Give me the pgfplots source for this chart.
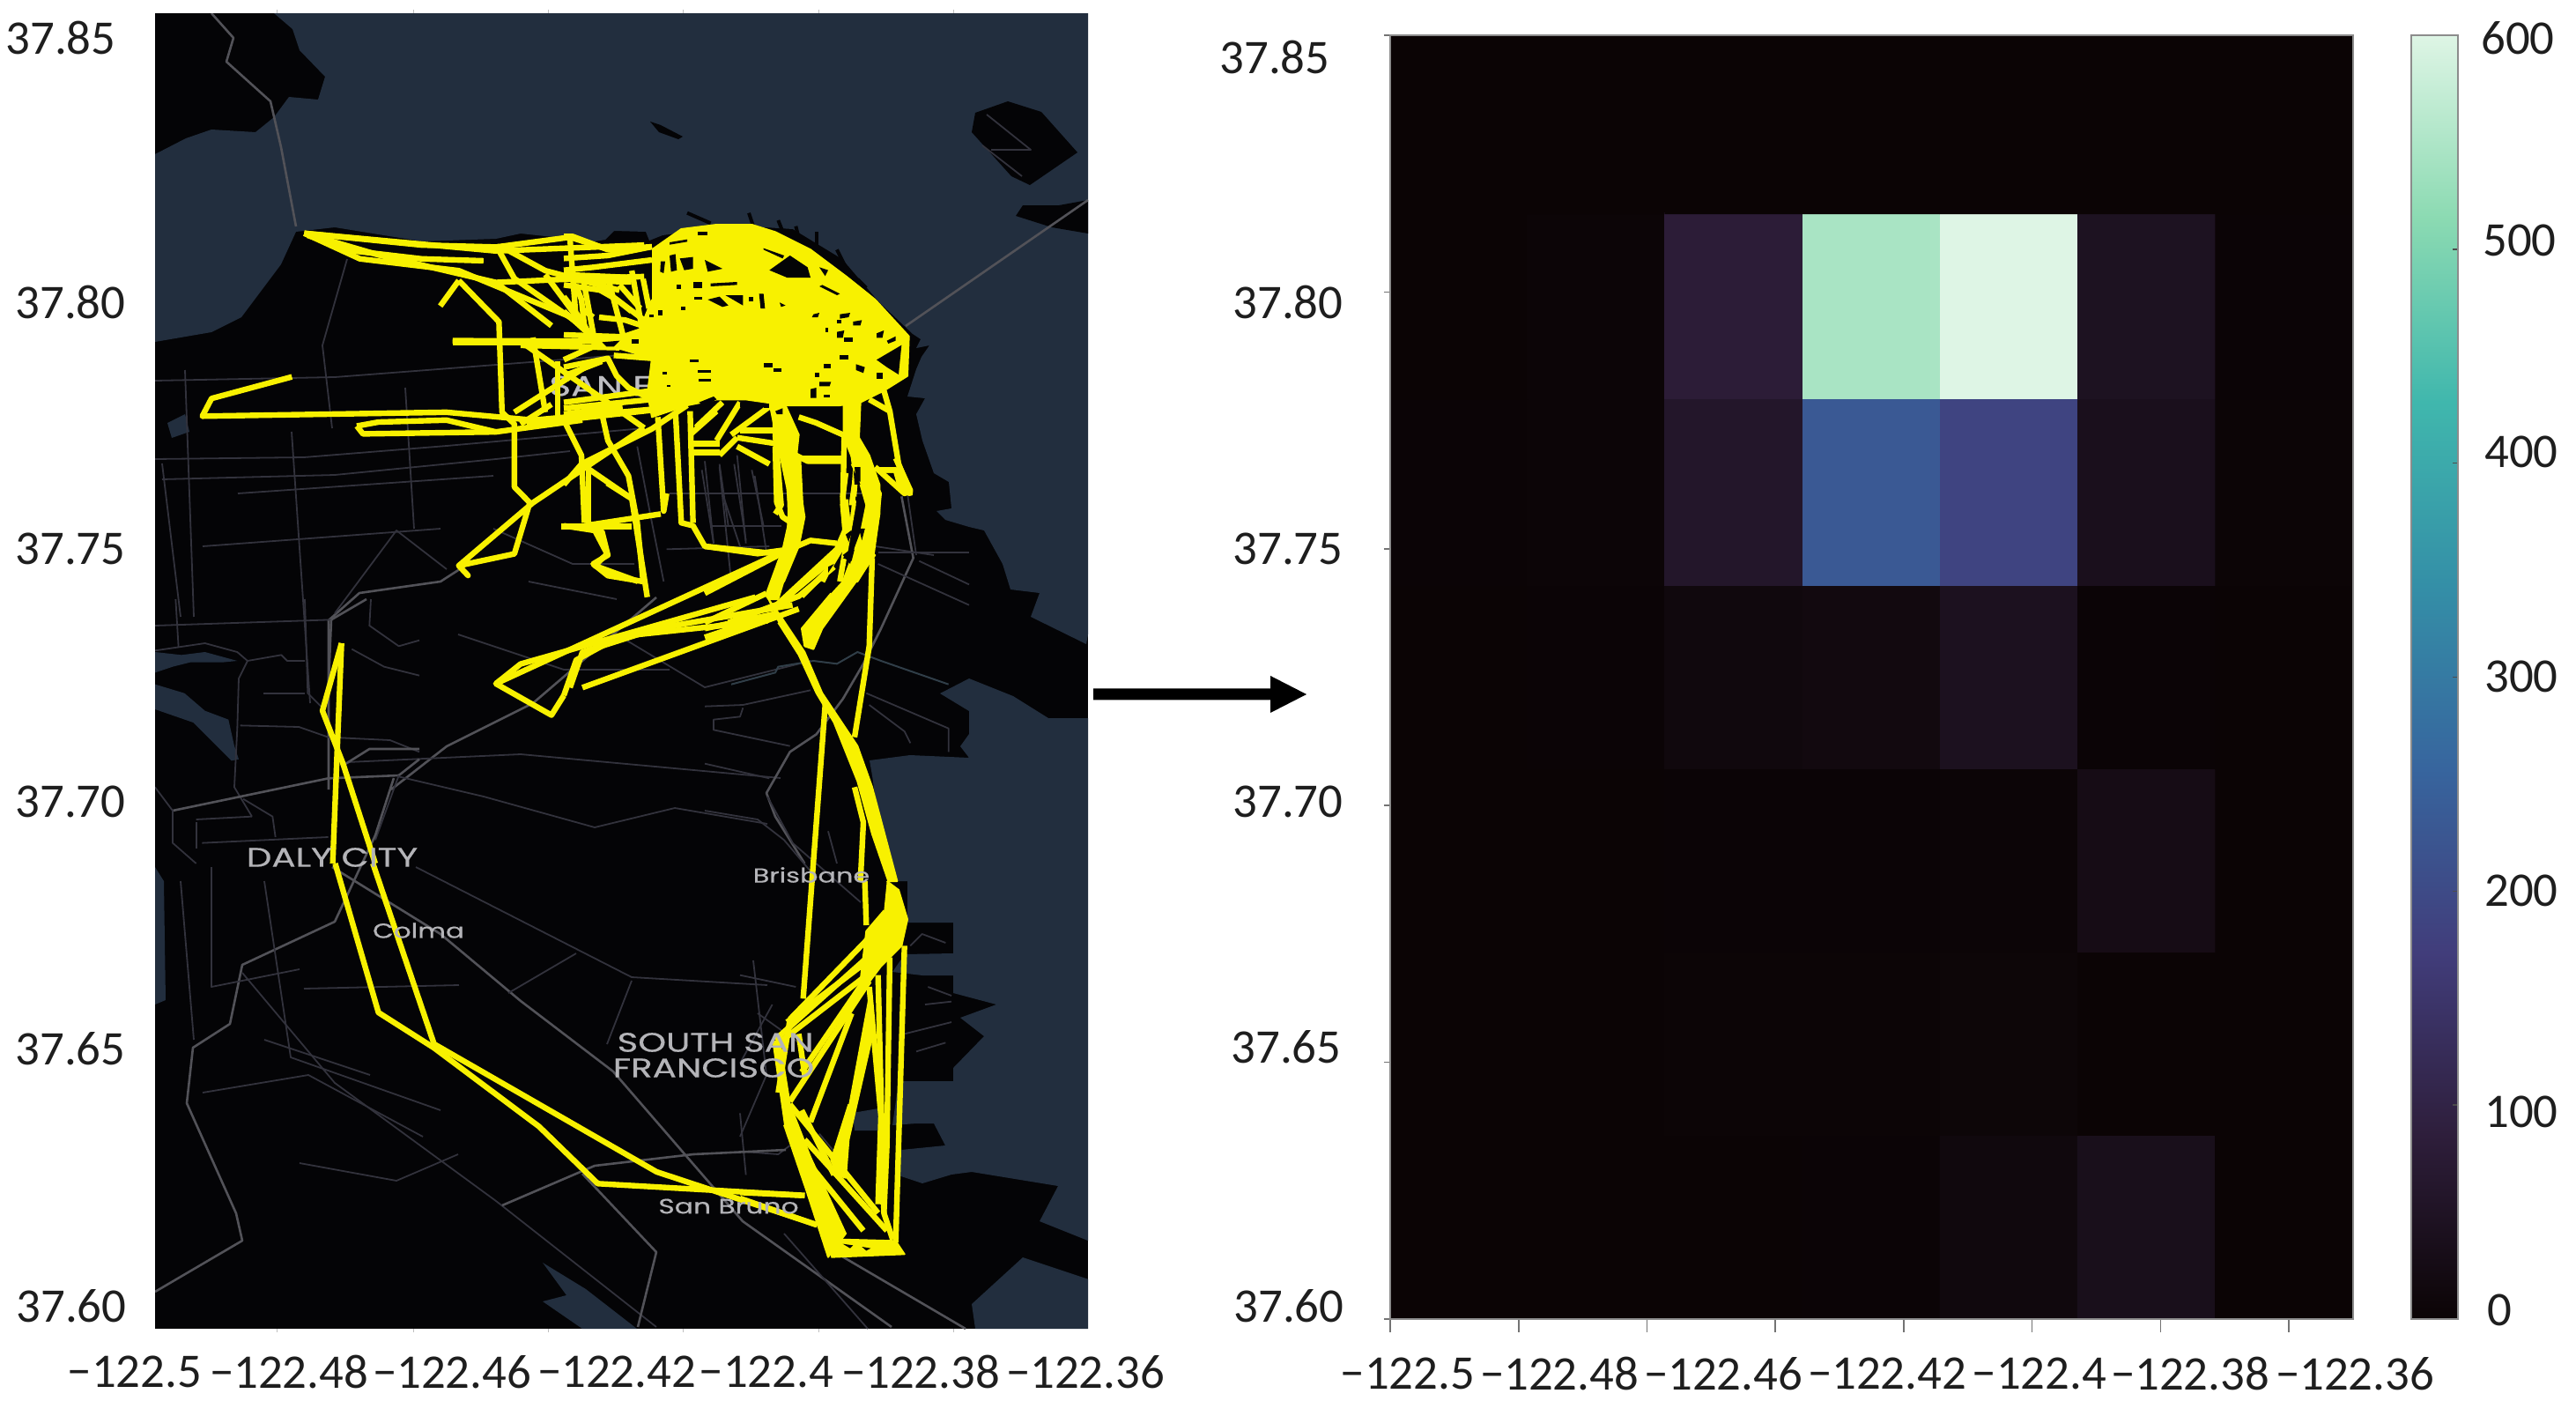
\documentclass[border=0pt]{standalone}
\usepackage{pgfplots}
\usepackage{fontspec}
\pgfplotsset{compat=1.18}
\setmainfont{Carlito}
\newfontfamily\mapfont[FakeStretch=1.33,FakeBold=0.5]{Poppins}
\definecolor{land}{RGB}{4,4,6}
\definecolor{water}{RGB}{34,46,62}
\definecolor{yel}{RGB}{248,241,0}
\definecolor{roadA}{RGB}{50,50,60}
\definecolor{roadB}{RGB}{82,82,88}
\definecolor{roadC}{RGB}{48,62,72}
\definecolor{lab}{RGB}{30,30,30}
\pgfplotsset{
  z1/.style={x filter/.expression={170+x/1.4255}, y filter/.expression={200+y/2.24}},
  z2/.style={x filter/.expression={170+x/1.4255}, y filter/.expression={850+y/2.24}},
  cA/.style={x filter/.expression={640+x/3}, y filter/.expression={240+y/3}},
  cB/.style={x filter/.expression={800+x/3}, y filter/.expression={500+y/3}},
  cC/.style={x filter/.expression={840+x/3}, y filter/.expression={1000+y/3}},
  cD/.style={x filter/.expression={176+x/3}, y filter/.expression={680+y/3}},
  colormap={mako}{rgb255=(11,4,5) rgb255=(46,30,59) rgb255=(65,61,123) rgb255=(55,101,158) rgb255=(52,143,167) rgb255=(64,183,173) rgb255=(139,218,178) rgb255=(222,245,229)}
}
\newcommand\wt[1]{\addplot[fill=water,draw=none] coordinates {#1};}
\newcommand\ld[1]{\addplot[fill=land,draw=none] coordinates {#1};}
\newcommand\rd[2][]{\addplot[roadA,line width=0.45pt,line join=round,#1] coordinates {#2};}
\newcommand\mr[2][]{\addplot[roadB,line width=0.65pt,line join=round,#1] coordinates {#2};}
\newcommand\yl[2]{\addplot[yel,line width=1.6pt,line join=round,#1] coordinates {#2};}
\newcommand\yf[2]{\addplot[fill=yel,draw=yel,line width=0.5pt,line join=round,#1] coordinates {#2};}
\newcommand\ho[1]{\addplot[fill=land,draw=none,cA] coordinates {#1};}
\newcommand\hb[1]{\addplot[fill=land,draw=none,cB] coordinates {#1};}
\newcommand\TL[3]{\node[inner sep=0pt,text=lab,font=\fontsize{13.7pt}{14pt}\selectfont] at (#1*0.25pt,-#2*0.25pt) {#3};}
\newcommand\ML[4]{\node[inner sep=0pt,text={rgb,255:red,180;green,180;blue,184},font=\mapfont\fontsize{#4}{9pt}\selectfont] at (#1*0.25pt,-#2*0.25pt) {#3};}
\begin{document}
\begin{tikzpicture}
\path[use as bounding box] (0,0) rectangle (731pt,-397.5pt);
% ---------- left: map with trajectories ----------
\begin{axis}[name=map,scale only axis,width=264.75pt,height=373.25pt,
  at={(705.5*0.25pt,-761.5*0.25pt)},anchor=center,
  xmin=176,xmax=1235,ymin=15,ymax=1508,y dir=reverse,clip=true,
  axis line style={draw=none},tick align=outside,major tick length=1pt,
  xtick={314,469,622,775,929,1082},ytick=\empty,xticklabel=\empty,
  xtick style={draw=black!25}]
\ld{(176,15) (1235,15) (1235,1508) (176,1508)}
% water
\wt{(311,15) (1235,15) (1235,720) (1233,731) (1170,700) (1180,673) (1147,669) (1138,640) (1117,602) (1100,598) (1073,590) (1063,580) (1080,577) (1077,547) (1060,537) (1047,500) (1040,470) (1050,452) (1030,450) (1040,419) (1046,405) (1055,392) (1040,395) (1045,385) (1036,379) (998,343) (956,294) (900,260) (836,256) (752,267) (737,273) (733,263) (697,262) (687,272) (675,274) (591,265) (563,271) (479,274) (380,258) (336,263) (319,300) (274,360) (240,377) (176,388) (176,175) (211,157) (240,147) (290,150) (311,133) (328,110) (361,113) (369,87) (340,57) (332,33)}
\wt{(1235,815) (1190,815) (1150,790) (1100,770) (1067,787) (1100,807) (1100,833) (1090,847) (1100,860) (1033,857) (987,863) (990,880) (1007,1000) (1030,1000) (1030,1047) (1082,1047) (1082,1082) (1027,1083) (1013,1103) (1047,1107) (1082,1107) (1082,1127) (1131,1140) (1090,1155) (1117,1176) (1082,1212) (1082,1227) (1020,1227) (1013,1277) (1040,1275) (1060,1275) (1073,1300) (1023,1305) (1017,1333) (1047,1343) (1080,1333) (1103,1330) (1201,1346) (1180,1386) (1235,1408)}
\wt{(968,1263) (997,1258) (997,1283) (970,1283)}
\wt{(1161,1427) (1236,1452) (1236,1508) (1107,1508) (1103,1480)}
\wt{(616,1433) (665,1463) (723,1508) (661,1508) (616,1477) (643,1470)}
\addplot[fill=water,draw=none,cD] coordinates {(0,180) (90,190) (170,180) (280,210) (230,215) (120,215) (60,230) (0,250)};
\addplot[fill=water,draw=none,cD] coordinates {(0,290) (100,320) (170,380) (250,410) (270,500) (285,545) (260,550) (200,490) (130,420) (0,375)};
\wt{(176,984) (186,1000) (188,1135) (176,1140)}
\wt{(190,480) (210,470) (215,490) (195,497)}
% islands and spurs of the shore
\ld{(1144,115) (1182,127) (1223,173) (1169,210) (1148,200) (1103,150) (1107,128)}
\ld{(1235,227) (1202,233) (1161,233) (1153,245) (1194,258) (1235,265)}
\ld{(738,138) (750,142) (775,155) (770,158) (748,150)}
\addplot[land,line width=1pt,cA] coordinates {(420,5) (500,40)};
\addplot[land,line width=1pt,cA] coordinates {(630,5) (645,50)};
\addplot[land,line width=1pt,cA] coordinates {(730,30) (750,80)};
\addplot[land,line width=1pt,cA] coordinates {(790,50) (800,90)};
\addplot[land,line width=1pt,cA] coordinates {(860,70) (860,130)};
\addplot[land,line width=1pt,cA] coordinates {(930,130) (960,190)};
\addplot[land,line width=1pt,cA] coordinates {(1000,230) (1030,260)};
% roads
\mr{(240,15) (265,43) (257,70) (307,115) (319,167) (336,257)}
\mr{(1235,227) (1028,370)}
\rd{(1115,165) (1160,200)} \rd{(1120,130) (1170,170) (1125,170)}
\rd{(176,432) (380,428) (563,414) (731,401)}
\rd{(176,521) (345,519) (507,506) (731,486)}
\rd{(184,544) (380,539) (563,521) (647,512)}
\rd{(184,526) (205,700)}
\rd{(331,490) (352,798)}
\rd{(394,294) (366,392) (377,486)}
\mr{(373,896) (373,704) (408,673) (500,660) (528,642)}
\mr{(444,896) (507,847) (605,798) (745,678)}
\rd{(394,865) (591,856) (886,883)}
\rd{(380,696) (450,602) (507,646)}
\rd{(700,720) (800,780) (920,750)} \rd{(520,720) (640,760) (760,760)}
\rd{(560,600) (650,640) (720,640)} \rd{(760,560) (1000,560)} \rd{(820,560) (840,620)}
\rd{(460,440) (470,600)} \rd{(270,560) (560,540)} \rd{(230,620) (500,600)} \rd{(210,420) (220,700)} \rd{(600,660) (700,680)}
% from the crops
\rd[cA]{(250,800) (300,1060) (340,1260)} \rd[cA]{(470,880) (510,1130)} \rd[cA]{(530,870) (570,1260)}
\rd[cA]{(590,830) (620,1130)} \rd[cA]{(650,900) (690,1160)} \rd[cA]{(350,1150) (700,1140)}
\rd[cA]{(1060,1140) (1260,1170)} \rd[cA]{(1170,960) (1200,1170)}
\rd[cB]{(0,70) (30,350)} \rd[cB]{(50,80) (80,290)} \rd[cB]{(100,80) (140,340)} \rd[cB]{(160,100) (200,290)} \rd[cB]{(20,290) (260,290)}
\mr[cB]{(670,190) (710,400) (600,640) (540,760) (470,880) (380,1000) (290,1060) (210,1200) (240,1280) (340,1440)}
\rd[cB]{(590,380) (900,380)} \rd[cB]{(590,420) (900,560)} \rd[cB]{(730,410) (900,490)}
\addplot[roadC,line width=0.5pt,cB] coordinates {(90,830) (240,790) (250,770) (370,750) (450,760) (520,720) (600,750) (830,830)};
\rd[cB]{(0,905) (130,900) (360,850)} \rd[cB]{(130,910) (120,940) (30,950) (30,985) (290,1040)}
\rd[cB]{(550,860) (830,980) (830,1060)} \rd[cB]{(560,900) (680,990) (700,1030)} \rd[cB]{(0,1100) (220,1150)}
\rd[cB]{(0,1260) (180,1290) (270,1360) (380,1490)} \rd[cB]{(420,1330) (450,1440)}
\rd[cC]{(0,320) (190,360)} \rd[cC]{(110,420) (0,620)} \rd[cC]{(0,920) (130,930) (170,900)} \rd[cC]{(270,860) (320,920)}
\rd[cC]{(580,220) (620,180) (700,210)} \rd[cC]{(560,520) (720,480)} \rd[cC]{(600,580) (700,550)} \rd[cC]{(630,420) (720,410)} \rd[cC]{(640,360) (720,390)} \rd[cC]{(0,790) (20,1000)}
\rd[cD]{(0,90) (600,70)} \mr[cD]{(600,70) (720,0)} \rd[cD]{(70,0) (80,165)}
\rd[cD]{(0,175) (170,150) (280,180) (315,210) (285,270) (280,440) (270,640) (330,740)}
\rd[cD]{(315,210) (430,190) (450,210) (510,210)} \rd[cD]{(510,0) (520,320) (570,370)} \mr[cD]{(600,70) (590,310)}
\rd[cD]{(370,320) (510,320)} \rd[cD]{(290,430) (490,435) (590,470) (800,480) (900,520)} \mr[cD]{(650,560) (730,510) (900,510)}
\mr[cD]{(60,720) (590,610) (830,600) (900,545)} \rd[cD]{(0,640) (60,720) (60,830) (140,900)} \rd[cD]{(300,680) (400,740) (410,810)}
\rd[cD]{(830,600) (750,820)} \rd[cD]{(735,0) (730,90) (830,160) (900,140)} \rd[cD]{(670,170) (780,230) (900,260)}
\rd[cD]{(140,760) (140,850)} \rd[cD]{(140,750) (330,740)} \rd[cD]{(160,830) (590,810)}
\mr{(447,883) (426,948) (380,1046) (275,1095) (261,1162) (219,1189) (212,1252) (268,1377) (275,1408) (176,1466)}
\rd{(275,1104) (380,1229) (563,1363) (745,1506)}
\rd{(451,881) (549,904) (675,939) (766,917) (871,935)}
\mr{(377,984) (500,1060) (591,1136) (696,1216) (843,1386) (1012,1506)}
\rd{(871,904) (900,957) (977,1024)}
\rd{(472,984) (717,1109) (871,1118)}
\rd{(717,1113) (689,1185)}
\rd{(654,1082) (577,1127)}
\mr{(892,1305) (787,1310) (675,1323) (570,1368)}
\mr{(661,1332) (745,1421) (724,1506)}
\mr{(956,1426) (1096,1508)}
\rd{(345,1122) (521,1118)}
\rd{(240,984) (240,1120) (340,1100)}
\rd{(230,1240) (350,1220) (480,1290)}
\rd{(340,1320) (450,1340) (520,1310)}
\rd{(855,1090) (870,1220) (840,1290)}
\rd{(860,1150) (930,1200)}
\rd{(890,1400) (985,1508)}
\rd{(300,1000) (330,1200) (500,1260)} \rd{(205,1000) (220,1180)} \rd{(300,1180) (420,1220)}
\node[inner sep=0pt,text={rgb,255:red,190;green,190;blue,194},font=\mapfont\fontsize{8pt}{9pt}\selectfont] at (791,438) {SAN FRANCISCO};
% trajectories: north-west of the city
\yl{z1}{(250,145) (440,175) (560,180) (680,155) (740,185)}
\yl{z1}{(250,145) (370,200) (560,270) (700,260) (800,255)}
\yl{z1}{(250,145) (340,210) (500,240) (700,370)}
\yl{z1}{(250,145) (560,190) (800,175)}
\yl{z1}{(255,150) (330,190) (440,210) (540,215)}
\yl{z1}{(560,175) (590,260) (690,370)}
\yl{z1}{(570,180) (640,240) (760,290)}
\yl{z1}{(500,265) (470,330)}
\yl{z1}{(500,265) (565,370) (570,600) (590,630) (590,790) (615,830) (590,960) (500,990) (515,1015) (500,990) (620,830) (800,640)}
\yl{z1}{(490,418) (830,420)} \yl{z1}{(490,424) (700,424)} \yl{z1}{(600,430) (760,436)}
\yl{z1}{(230,510) (100,565) (85,610) (480,600) (620,620) (830,590)}
\yl{z1}{(335,635) (370,625) (480,620) (560,650)}
\yl{z1}{(335,635) (345,655) (560,650) (700,620)}
\yl{z1}{(660,470) (660,620)}
\yl{z1}{(600,420) (800,640)}
\yl{z1}{(590,600) (720,470)} \yl{z1}{(600,630) (650,580)} \yl{z1}{(610,630) (840,590)} \yl{z1}{(620,410) (640,600)}
\yl{z1}{(665,890) (780,890)} \yl{z1}{(720,900) (740,960) (720,990) (790,1030)}
\yl{z1}{(710,730) (710,890)} \yl{z1}{(740,780) (780,820) (805,1070)}
\yl{z1}{(680,160) (690,370)} \yl{z1}{(560,270) (650,380)}
\yl{z1}{(700,250) (720,420)} \yl{z1}{(740,250) (770,430)} \yl{z1}{(780,240) (800,420)} \yl{z1}{(640,250) (720,420)}
% downtown
\yf{cA}{(300,130) (400,60) (520,45) (640,45) (720,70) (840,130) (960,220) (1060,300) (1175,425) (1170,560) (1090,610) (1010,650) (940,660) (760,660) (620,640) (520,640) (420,660) (300,700) (285,620) (300,500) (200,470) (110,450) (260,400) (300,300)}
\yl{cA}{(0,85) (30,85) (150,130) (300,120)} \yl{cA}{(0,160) (150,150) (300,120)} \yl{cA}{(0,200) (100,190) (300,165)}
\yl{cA}{(0,215) (230,225)} \yl{cA}{(40,235) (230,240)} \yl{cA}{(0,250) (140,270) (300,390)}
\yl{cA}{(0,290) (60,370) (110,460)} \yl{cA}{(0,340) (100,430)} \yl{cA}{(40,250) (60,300) (70,390)}
\yl{cA}{(110,260) (180,300) (230,340)} \yl{cA}{(190,250) (260,330)} \yl{cA}{(270,230) (290,330)}
\yl{cA}{(120,360) (210,370) (300,400)} \yl{cA}{(60,330) (100,360)} \yl{cA}{(0,420) (300,430)}
\yl{cA}{(0,505) (100,460) (300,440)} \yl{cA}{(0,530) (150,500) (180,560) (220,600) (300,640)} \yl{cA}{(0,560) (130,510)}
\yl{cA}{(170,490) (300,500)} \yl{cA}{(0,650) (300,610)} \yl{cA}{(0,670) (300,640)} \yl{cA}{(0,690) (200,665)}
\yl{cA}{(0,710) (60,830) (70,1060)} \yl{cA}{(130,690) (150,780) (220,900) (250,1060) (270,1260)}
\yl{cA}{(0,930) (60,860) (300,740) (420,660)} \yl{cA}{(60,860) (220,970)}
\yl{cA}{(70,1070) (330,1030)} \yl{cA}{(0,1070) (130,1090) (150,1170) (100,1200) (150,1240) (270,1260)}
\yl{cA}{(320,700) (340,1020) (350,960)} \yl{cA}{(380,680) (400,1060) (440,1070) (480,1140) (720,1165)} \yl{cA}{(430,680) (440,1060)}
\yl{cA}{(430,790) (530,790)} \yl{cA}{(430,820) (530,820)} \yl{cA}{(590,800) (700,860)} \yl{cA}{(590,770) (720,790)} \yl{cA}{(600,745) (720,745)}
\yl{cA}{(530,830) (590,770)} \yl{cA}{(450,735) (540,650)} \yl{cA}{(520,780) (600,650)} \yl{cA}{(570,760) (720,650)} \yl{cA}{(430,760) (520,680)} \yl{cA}{(720,650) (720,760) (740,1000) (720,1030)}
\yl{cA}{(790,830) (830,850) (950,850)} \yl{cA}{(800,700) (860,720) (950,760)} \yl{cA}{(1040,640) (1110,680) (1090,610)} \yl{cA}{(1110,680) (1140,860) (1180,960) (1150,950) (1130,880) (1070,880)}
\yf{cA}{(750,650) (800,760) (790,850) (820,1040) (800,1140) (750,1260) (720,1260) (750,1130) (770,1040) (760,940) (730,800) (700,650)}
\yf{cA}{(950,650) (1010,650) (1005,770) (1040,830) (1075,930) (1075,1030) (1050,1180) (1000,1260) (950,1260) (1010,1100) (1030,1000) (990,860) (950,760)}
\yl{cA}{(955,760) (950,1000) (960,1100) (880,1260)} \yl{cA}{(1000,800) (985,1000) (940,1260)}
% holes left open by the trajectories
\ho{(700,200) (770,150) (830,190) (840,225) (760,225)} \ho{(870,190) (900,200) (890,220)} \ho{(880,250) (940,280) (930,285) (870,255)}
\ho{(1065,505) (1150,455) (1140,555) (1100,530)} \ho{(360,105) (420,95) (420,103) (360,113)} \ho{(455,70) (490,70) (490,80) (455,80)}
\ho{(680,125) (750,150) (745,160) (680,130)} \ho{(360,150) (380,145) (385,200) (365,205)} \ho{(395,160) (440,155) (440,195) (410,200)}
\ho{(480,165) (540,195) (490,205)} \ho{(500,245) (590,240) (590,250) (500,255)} \ho{(440,240) (470,240) (470,260) (440,260)}
\ho{(385,250) (400,250) (400,265) (385,265)} \ho{(490,300) (530,290) (560,320) (540,325)} \ho{(550,285) (610,285) (610,320)}
\ho{(630,290) (645,290) (645,305) (630,305)} \ho{(665,280) (680,280) (685,330) (670,330)} \ho{(735,310) (755,320) (740,325)}
\ho{(445,290) (470,290) (470,300) (445,300)} \ho{(400,325) (415,325) (415,335) (400,335)} \ho{(320,335) (335,335) (335,355) (320,355)}
\ho{(290,350) (305,350) (305,360) (290,360)} \ho{(330,170) (345,170) (340,210) (328,205)}
\ho{(850,350) (870,345) (865,360) (845,360)} \ho{(940,350) (975,345) (970,360) (940,365)} \ho{(985,375) (1015,370) (1010,388) (985,388)}
\ho{(930,370) (945,370) (945,380) (930,380)} \ho{(1065,415) (1090,405) (1085,430) (1065,430)} \ho{(1100,440) (1130,425) (1130,440) (1105,450)}
\ho{(930,410) (955,405) (950,430) (930,430)} \ho{(955,430) (985,430) (985,445) (955,445)} \ho{(890,395) (900,395) (900,410) (890,410)}
\ho{(940,490) (970,490) (970,505) (940,505)} \ho{(885,520) (910,520) (910,535) (885,535)} \ho{(995,520) (1025,530) (1020,550) (995,540)}
\ho{(1065,550) (1085,550) (1085,570) (1065,570)} \ho{(855,550) (870,550) (870,565) (855,565)} \ho{(870,580) (910,580) (905,595) (870,595)}
\ho{(840,605) (860,600) (860,635) (840,635)} \ho{(885,625) (905,625) (905,632) (885,632)} \ho{(680,515) (710,515) (710,530) (680,530)}
\ho{(715,535) (740,535) (740,545) (715,545)} \ho{(455,540) (500,540) (500,550) (455,550)} \ho{(460,570) (500,570) (500,580) (460,580)}
\ho{(430,505) (460,505) (460,512) (430,512)} \ho{(335,545) (350,545) (350,555) (335,555)} \ho{(350,590) (362,590) (362,598) (350,598)}
\ho{(230,435) (255,435) (255,450) (230,450)} \ho{(130,445) (190,440) (170,460) (145,460)}
\ho{(460,650) (510,630) (520,640) (480,662)} \ho{(600,650) (625,650) (625,665) (600,665)} \ho{(680,655) (700,655) (700,668) (680,668)}
\ho{(720,680) (745,670) (745,690) (725,690)}
\ho{(985,860) (1010,930) (990,930)} \ho{(990,970) (1010,975) (1000,1000)} \ho{(965,1000) (980,1000) (970,1050)}
\ho{(1005,1010) (1015,1015) (1005,1040)} \ho{(1005,1080) (1025,1080) (1015,1120)} \ho{(960,1100) (985,1085) (965,1130)}
\ho{(950,1170) (990,1140) (975,1200)} \ho{(880,1230) (930,1160) (905,1240)}
% south of the city
\yl{z1}{(1010,965) (560,1290) (650,1370) (670,1320)}
\yl{z1}{(1050,1100) (700,1300)}
\yl{z1}{(980,1070) (600,1240) (560,1290)}
\yl{z1}{(1040,1090) (820,1150) (700,1210) (680,1300)}
\yl{z1}{(1000,1130) (760,1170) (690,1230) (670,1320)}
\yf{cB}{(285,0) (325,60) (335,260) (315,350) (280,440) (250,540) (220,540) (210,520) (250,410) (280,340) (285,250) (280,100)}
\yl{cB}{(240,20) (245,210) (265,260) (295,280)} \yl{cB}{(330,60) (480,60)}
\yl{cB}{(0,360) (180,385) (290,370)} \yl{cB}{(0,520) (260,385)} \yl{cB}{(290,370) (360,340) (450,350)}
\yl{cB}{(0,620) (210,520)} \yl{cB}{(0,640) (240,590)} \yl{cB}{(0,670) (240,590)}
\yl{cB}{(80,620) (240,560) (320,530) (440,430)} \yl{cB}{(250,555) (450,370) (480,300) (480,200)}
\yf{cB}{(210,530) (260,600) (340,720) (400,860) (520,1040) (570,1180) (655,1500) (625,1500) (570,1340) (520,1160) (440,960) (380,860) (320,730) (250,620)}
\yf{cB}{(540,400) (580,390) (400,640) (370,710) (340,700) (330,640) (430,520)}
\yf{cB}{(490,0) (580,140) (600,180) (590,280) (575,390) (545,400) (545,330) (560,200) (500,80)}
\yl{cB}{(480,110) (470,190) (480,340) (420,440) (330,530)} \yl{cB}{(510,150) (490,290) (440,400) (260,550)}
\yl{cB}{(580,90) (680,180) (700,170) (650,60)} \yl{cB}{(590,100) (650,100) (690,170)}
\yl{cB}{(570,400) (560,700) (510,1010)} \yl{cB}{(410,900) (365,1500)} \yl{cB}{(510,1180) (540,1300) (530,1500)}
\hb{(510,90) (530,90) (530,140) (515,140)} \hb{(490,220) (500,220) (495,260)} \hb{(515,190) (530,200) (520,215)}
\hb{(525,240) (535,235) (525,260)} \hb{(480,320) (500,305) (490,345)} \hb{(530,300) (545,300) (535,330)}
\hb{(470,400) (510,370) (500,410)} \hb{(420,430) (440,420) (420,450)} \hb{(330,600) (370,550) (345,610)} \hb{(280,600) (295,600) (295,625)}
% Daly City loop
\yl{cD}{(635,150) (620,520) (605,900)} \yl{cD}{(635,150) (570,380) (640,560) (750,900)}
\yl{z2}{(300,291) (370,670) (460,760) (630,960) (725,1105) (1060,1135)}
\yl{z2}{(361,291) (460,750) (820,1075) (1080,1210)}
% south fan
\yl{cC}{(245,0) (215,400)} \yl{cC}{(425,0) (430,150)}
\yf{cC}{(500,0) (540,30) (570,130) (550,220) (480,290) (420,370) (410,340) (430,170) (490,100)}
\yl{cC}{(530,200) (160,480)} \yl{cC}{(500,130) (170,470)} \yl{cC}{(500,200) (120,540)} \yl{cC}{(470,290) (120,560)}
\yl{cC}{(450,300) (210,650)} \yl{cC}{(440,340) (170,750)} \yl{cC}{(380,450) (240,820)}
\yf{cC}{(440,380) (450,530) (370,880) (360,1010) (330,1000) (310,950) (370,760)}
\yl{cC}{(560,220) (530,1230)} \yl{cC}{(470,320) (490,1130) (520,1220)} \yl{cC}{(440,360) (480,800) (470,1100)} \yl{cC}{(510,260) (500,900) (490,1130)}
\yf{cC}{(110,550) (135,540) (170,760) (240,940) (360,1200) (300,1280) (225,1050) (150,830)}
\yf{cC}{(310,1280) (560,1270) (530,1225) (340,1220) (290,1160)}
\yl{cC}{(170,760) (470,1130)} \yl{cC}{(220,880) (500,1190)} \yl{cC}{(250,980) (420,1190)} \yl{cC}{(210,780) (320,1000)}
\yl{cC}{(170,470) (130,720)} \yl{cC}{(200,520) (220,660)}
\yl{cC}{(0,1060) (210,1070)} \yl{cC}{(0,1080) (260,1170)}
\addplot[fill=land,draw=none,cC] coordinates {(350,1235) (385,1240) (375,1250)};
\addplot[fill=land,draw=none,cC] coordinates {(415,1245) (445,1250) (430,1258)};
\end{axis}
% map names
\ML{377}{973}{DALY CITY}{7.6pt}
\ML{475}{1056}{Colma}{5.8pt}
\ML{921}{993}{Brisbane}{5.7pt}
\ML{812}{1183}{SOUTH SAN}{7.6pt}
\ML{810}{1212}{FRANCISCO}{7.6pt}
\ML{827}{1369}{San Bruno}{5.9pt}
% ---------- arrow ----------
\fill[black] (1241*0.25pt,-781.5*0.25pt) -- (1442*0.25pt,-781.5*0.25pt) -- (1442*0.25pt,-767*0.25pt) -- (1483*0.25pt,-788*0.25pt) -- (1442*0.25pt,-809*0.25pt) -- (1442*0.25pt,-794.5*0.25pt) -- (1241*0.25pt,-794.5*0.25pt) -- cycle;
% ---------- right: heat map ----------
\begin{axis}[name=heat,scale only axis,width=273.25pt,height=364.25pt,
  at={(2124.5*0.25pt,-768.5*0.25pt)},anchor=center,
  xmin=-122.5,xmax=-122.35,ymin=37.6,ymax=37.85,
  axis line style={draw=black!45,line width=0.6pt},axis on top,
  tick align=outside,major tick length=3.75pt,
  xtick={-122.5,-122.48,-122.46,-122.44,-122.42,-122.4,-122.38,-122.36},
  ytick={37.6,37.65,37.7,37.75,37.8,37.85},
  xticklabel=\empty,yticklabel=\empty,
  xtick pos=bottom,ytick pos=left,
  tick style={draw=black!55,line width=0.4pt},
  ytick style={/pgfplots/major tick length=1.8pt},
  colormap name=mako,point meta min=0,point meta max=600,
  colorbar,
  colorbar style={at={(1.0604,0)},anchor=south west,scale only axis,width=13.25pt,height=364.25pt,
    ytick={0,100,200,300,400,500,600},yticklabel=\empty,ytick pos=right,
    major tick length=1.6pt,tick style={draw=black!70,line width=0.4pt},
    axis line style={draw=black!45,line width=0.4pt}}]
\addplot[matrix plot*,mesh/cols=7,point meta=explicit] table[meta=z] {
x y z
-122.4893 37.6179 0
-122.4679 37.6179 0
-122.4464 37.6179 0
-122.4250 37.6179 1
-122.4036 37.6179 12
-122.3821 37.6179 35
-122.3607 37.6179 0
-122.4893 37.6536 0
-122.4679 37.6536 0
-122.4464 37.6536 2
-122.4250 37.6536 2
-122.4036 37.6536 5
-122.3821 37.6536 0
-122.3607 37.6536 0
-122.4893 37.6893 0
-122.4679 37.6893 0
-122.4464 37.6893 1
-122.4250 37.6893 1
-122.4036 37.6893 3
-122.3821 37.6893 26
-122.3607 37.6893 0
-122.4893 37.7250 0
-122.4679 37.7250 1
-122.4464 37.7250 12
-122.4250 37.7250 16
-122.4036 37.7250 42
-122.3821 37.7250 1
-122.3607 37.7250 0
-122.4893 37.7607 1
-122.4679 37.7607 3
-122.4464 37.7607 58
-122.4250 37.7607 232
-122.4036 37.7607 187
-122.3821 37.7607 36
-122.3607 37.7607 2
-122.4893 37.7978 0
-122.4679 37.7978 3
-122.4464 37.7978 80
-122.4250 37.7978 545
-122.4036 37.7978 600
-122.3821 37.7978 45
-122.3607 37.7978 1
-122.4893 37.8328 0
-122.4679 37.8328 0
-122.4464 37.8328 0
-122.4250 37.8328 0
-122.4036 37.8328 0
-122.3821 37.8328 0
-122.3607 37.8328 0
};
\end{axis}
% ---------- tick labels ----------
\TL{69}{43}{37.85} \TL{80}{343}{37.80} \TL{80}{623}{37.75} \TL{80}{910}{37.70} \TL{80}{1190}{37.65} \TL{81}{1482}{37.60}
\TL{153}{1557}{−122.5} \TL{328}{1557}{−122.48} \TL{513}{1557}{−122.46} \TL{700}{1557}{−122.42} \TL{870}{1557}{−122.4} \TL{1045}{1557}{−122.38} \TL{1232}{1557}{−122.36}
\TL{1447}{65}{37.85} \TL{1462}{343}{37.80} \TL{1462}{623}{37.75} \TL{1462}{910}{37.70} \TL{1460}{1188}{37.65} \TL{1463}{1482}{37.60}
\TL{1598}{1559}{−122.5} \TL{1770}{1559}{−122.48} \TL{1956}{1559}{−122.46} \TL{2142}{1559}{−122.42} \TL{2315}{1559}{−122.4} \TL{2486}{1559}{−122.38} \TL{2673}{1559}{−122.36}
\TL{2858}{43}{600} \TL{2860}{273}{500} \TL{2862}{513}{400} \TL{2862}{768}{300} \TL{2862}{1011}{200} \TL{2862}{1262}{100} \TL{2837}{1487}{0}
\end{tikzpicture}
\end{document}
